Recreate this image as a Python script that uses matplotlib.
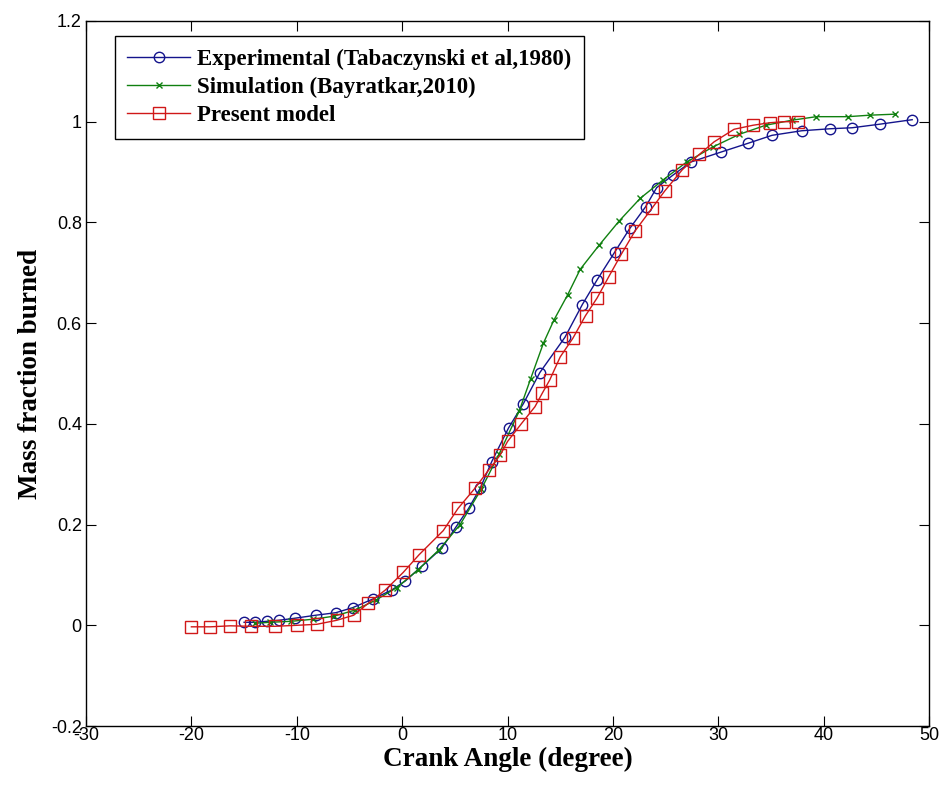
from matplotlib import pyplot as plt
from matplotlib.ticker import FuncFormatter
import numpy as np

plt.rcParams['axes.unicode_minus'] = False

# Experimental (Tabaczynski et al, 1980)
exp_x = [-15, -14, -12.8, -11.7, -10.2, -8.2, -6.3, -4.7, -2.8, -1.0, 0.3, 1.9, 3.75,
         5.1, 6.3, 7.4, 8.5, 10.1, 11.5, 13.07, 15.45, 17.1, 18.5, 20.2, 21.6, 23.1,
         24.15, 25.7, 27.4, 30.3, 32.8, 35.1, 37.9, 40.6, 42.7, 45.3, 48.4]
exp_y = [0.006, 0.006, 0.008, 0.01, 0.014, 0.02, 0.025, 0.035, 0.052, 0.07, 0.088,
         0.118, 0.153, 0.195, 0.232, 0.272, 0.325, 0.392, 0.44, 0.502, 0.572, 0.637,
         0.686, 0.742, 0.788, 0.831, 0.869, 0.894, 0.92, 0.94, 0.957, 0.973, 0.982,
         0.986, 0.988, 0.995, 1.004]

# Simulation (Bayratkar, 2010)
sim_x = [-14, -12.5, -10.5, -8.5, -6.5, -4.5, -2.5, -0.5, 1.5, 3.5, 5.5, 7.5, 9.2,
         11.1, 12.2, 13.4, 14.4, 15.7, 16.9, 18.7, 20.6, 22.6, 24.8, 27, 29.5, 32,
         34.5, 37, 39.3, 42.3, 44.4, 46.8]
sim_y = [0.004, 0.006, 0.008, 0.012, 0.018, 0.03, 0.05, 0.075, 0.11, 0.15, 0.2, 0.27,
         0.34, 0.425, 0.49, 0.56, 0.606, 0.656, 0.707, 0.755, 0.803, 0.848, 0.885,
         0.92, 0.95, 0.975, 0.993, 1.003, 1.01, 1.01, 1.013, 1.015]

# Present model
mod_x = [-20, -18.2, -16.3, -14.3, -12.1, -10, -8.1, -6.2, -4.6, -3.2, -1.6, 0.1, 1.6,
         3.9, 5.3, 6.9, 8.2, 9.3, 10.0, 11.3, 12.6, 13.3, 14.0, 15.0, 16.2, 17.4, 18.5,
         19.6, 20.8, 22.1, 23.7, 24.9, 26.6, 28.2, 29.6, 31.5, 33.3, 34.9, 36.2, 37.6]
mod_y = [-0.003, -0.003, -0.001, -0.002, -0.002, 0.0, 0.002, 0.01, 0.02, 0.044, 0.07,
         0.105, 0.14, 0.188, 0.232, 0.272, 0.308, 0.338, 0.365, 0.4, 0.434, 0.461,
         0.487, 0.533, 0.57, 0.615, 0.65, 0.692, 0.737, 0.783, 0.828, 0.862, 0.905,
         0.935, 0.96, 0.985, 0.993, 0.998, 1.0, 1.0]

fig = plt.figure(figsize=(9.41, 7.92), dpi=100)
ax = fig.add_axes([0.0914, 0.0833, 0.8959, 0.8902])

ax.plot(exp_x, exp_y, '-o', color='#14148c', mfc='none', ms=7.5, mew=1.0, lw=1.0,
        label='Experimental (Tabaczynski et al,1980)')
ax.plot(sim_x, sim_y, '-x', color='#108010', ms=4, mew=1.0, lw=1.0,
        label='Simulation (Bayratkar,2010)')
ax.plot(mod_x, mod_y, '-s', color='#d01818', mfc='none', ms=8.5, mew=1.0, lw=1.0,
        label='Present model')

ax.set_xlim(-30, 50)
ax.set_ylim(-0.2, 1.2)
ax.set_xticks(np.arange(-30, 51, 10))
ax.set_yticks(np.arange(-0.2, 1.21, 0.2))
ax.yaxis.set_major_formatter(FuncFormatter(lambda v, p: '%g' % round(v, 2)))
ax.tick_params(direction='in', length=7, top=True, right=True, labelsize=13)
ax.tick_params(axis='x', pad=1)
ax.tick_params(axis='y', pad=3)
for lab in ax.get_xticklabels() + ax.get_yticklabels():
    lab.set_family('Liberation Sans')
for s in ax.spines.values():
    s.set_linewidth(1.0)

ax.set_xlabel('Crank Angle (degree)', family='Liberation Serif', weight='bold',
              fontsize=19.5, labelpad=2)
ax.set_ylabel('Mass fraction burned', family='Liberation Serif', weight='bold',
              fontsize=19.5, labelpad=6)

leg = ax.legend(loc='upper left', bbox_to_anchor=(0.034, 0.979), borderaxespad=0,
                fancybox=False, edgecolor='black', framealpha=1,
                prop={'family': 'Liberation Serif', 'weight': 'bold', 'size': 16.5},
                handlelength=2.75, handletextpad=0.3, labelspacing=0.32,
                borderpad=0.55)
leg.get_frame().set_linewidth(1.0)

plt.savefig('out.png', dpi=100)
